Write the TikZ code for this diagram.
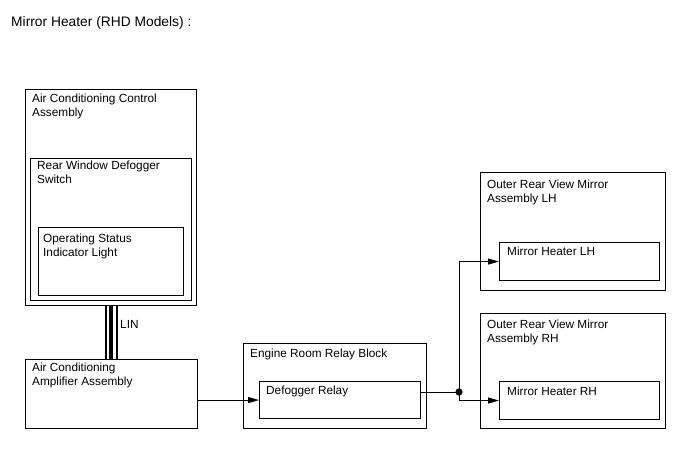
\documentclass[tikz,border=0pt]{standalone}
\usepackage{fontspec}
\setmainfont{Liberation Sans}
\usetikzlibrary{arrows.meta}
\begin{document}
\begin{tikzpicture}[x=1pt,y=-1pt,
  box/.style={draw=black, line width=1.1pt, rectangle, inner sep=0pt, anchor=north west},
  lbl/.style={anchor=base west, inner sep=0pt, font=\fontsize{11.8}{14}\selectfont},
  conn/.style={line width=1pt},
  arr/.style={conn, -{Triangle[length=11pt,width=6pt]}}]
\useasboundingbox (0,0) rectangle (688,463);
\newcommand{\twol}[2]{\begin{tabular}[t]{@{}l@{}}#1\\#2\end{tabular}}
% title
\node[anchor=base west, inner sep=0pt, font=\fontsize{13.8}{16}\selectfont] (title) at (11,26.5) {Mirror Heater (RHD Models) :};
% boxes
\node[box, minimum width=171pt, minimum height=216pt] (acc) at (25,89) {};
\node[box, minimum width=161pt, minimum height=142pt] (rwd) at (30,158) {};
\node[box, minimum width=145pt, minimum height=68pt] (osl) at (38,227) {};
\node[box, minimum width=172pt, minimum height=69pt] (amp) at (25,359) {};
\node[box, minimum width=183pt, minimum height=85pt] (erb) at (243,343) {};
\node[box, minimum width=161pt, minimum height=37pt] (dr) at (259,381) {};
\node[box, minimum width=185pt, minimum height=118pt] (lhA) at (480,172) {};
\node[box, minimum width=160pt, minimum height=38pt] (lhH) at (499,242) {};
\node[box, minimum width=185pt, minimum height=115pt] (rhA) at (480,313) {};
\node[box, minimum width=160pt, minimum height=38pt] (rhH) at (499,381) {};
% labels
\node[lbl] (accT) at (32,102) {\twol{Air Conditioning Control}{Assembly}};
\node[lbl] (rwdT) at (37,169) {\twol{Rear Window Defogger}{Switch}};
\node[lbl] (oslT) at (43,242) {\twol{Operating Status}{Indicator Light}};
\node[lbl] (ampT) at (32,371.5) {\twol{Air Conditioning}{Amplifier Assembly}};
\node[lbl] (linT) at (120,328) {LIN};
\node[lbl] (erbT) at (250,357) {Engine Room Relay Block};
\node[lbl] (drT) at (266,394) {Defogger Relay};
\node[lbl] (lhAT) at (487,188.3) {\twol{Outer Rear View Mirror}{Assembly LH}};
\node[lbl] (lhHT) at (507,255.5) {Mirror Heater LH};
\node[lbl] (rhAT) at (487,328) {\twol{Outer Rear View Mirror}{Assembly RH}};
\node[lbl] (rhHT) at (507,395) {Mirror Heater RH};
% LIN bus
\draw[line width=1.7pt] ([xshift=-5.3pt]acc.south) -- ([xshift=-5.3pt]acc.south |- amp.north);
\draw[line width=3.3pt] (acc.south) -- (acc.south |- amp.north);
\draw[line width=2pt] ([xshift=5.5pt]acc.south) -- ([xshift=5.5pt]acc.south |- amp.north);
% connectors
\coordinate (j) at (459,392);
\draw[arr] (amp.east |- dr.west) -- (dr.west);
\draw[conn] (j -| dr.east) -- (j);
\draw[arr] (j) |- (lhH.west);
\draw[arr] (j) |- (rhH.west);
\fill (j) circle (3.6pt);
\end{tikzpicture}
\end{document}
